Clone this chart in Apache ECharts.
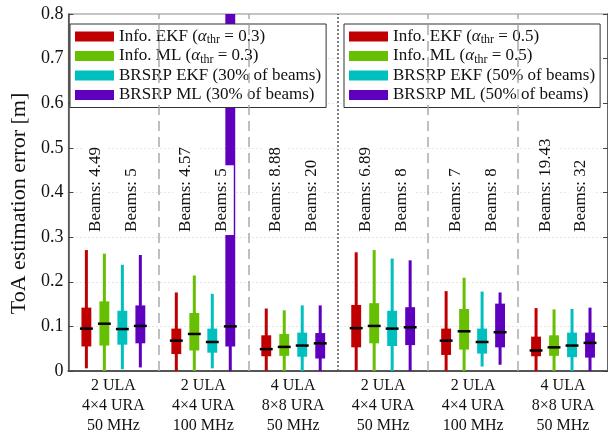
<!DOCTYPE html>
<html>
<head>
<meta charset="utf-8">
<script src="https://cdn.jsdelivr.net/npm/echarts@6/dist/echarts.min.js"></script>
<style>
  html, body { margin: 0; padding: 0; background: #fff; }
  #chart { width: 608px; height: 436px; }
</style>
</head>
<body>
<div id="chart"></div>
<script>
// x axis groups
var categories = [
  '2 ULA\n4×4 URA\n50 MHz', '2 ULA\n4×4 URA\n100 MHz', '4 ULA\n8×8 URA\n50 MHz',
  '2 ULA\n4×4 URA\n50 MHz', '2 ULA\n4×4 URA\n100 MHz', '4 ULA\n8×8 URA\n50 MHz'
]
var yTicks = [0, 0.1, 0.2, 0.3, 0.4, 0.5, 0.6, 0.7, 0.8]

// [min, q1, median, q3, max] for each group
var infoEkf = [
  [0.006, 0.055, 0.095, 0.142, 0.271],
  [0, 0.038, 0.068, 0.095, 0.176],
  [0, 0.033, 0.049, 0.080, 0.140],
  [0, 0.053, 0.096, 0.148, 0.266],
  [0, 0.036, 0.068, 0.095, 0.179],
  [0, 0.033, 0.046, 0.077, 0.141]
]
var infoMl = [
  [0, 0.057, 0.106, 0.156, 0.263],
  [0, 0.046, 0.083, 0.130, 0.214],
  [0, 0.034, 0.054, 0.083, 0.136],
  [0, 0.062, 0.101, 0.152, 0.271],
  [0, 0.048, 0.089, 0.139, 0.209],
  [0, 0.034, 0.053, 0.080, 0.138]
]
var brsrpEkf = [
  [0.004, 0.059, 0.094, 0.135, 0.238],
  [0.006, 0.041, 0.065, 0.095, 0.173],
  [0, 0.032, 0.057, 0.086, 0.147],
  [0, 0.056, 0.095, 0.135, 0.252],
  [0.010, 0.039, 0.065, 0.095, 0.178],
  [0, 0.031, 0.057, 0.086, 0.139]
]
var brsrpMl = [
  [0.008, 0.062, 0.101, 0.147, 0.260],
  [0, 0.055, 0.100, 0.950, 1.600],
  [0, 0.028, 0.062, 0.085, 0.147],
  [0, 0.058, 0.098, 0.143, 0.248],
  [0.014, 0.053, 0.087, 0.151, 0.176],
  [0, 0.030, 0.063, 0.086, 0.142]
]
// number of beams written over each pair of boxes
var beams = ['4.49', '5', '4.57', '5', '8.88', '20', '6.89', '8', '7', '8', '19.43', '32']

var namesLeft = ['Info. EKF (α_thr = 0.3)', 'Info. ML (α_thr = 0.3)', 'BRSRP EKF (30% of beams)', 'BRSRP ML (30% of beams)']
var namesRight = ['Info. EKF (α_thr = 0.5)', 'Info. ML (α_thr = 0.5)', 'BRSRP EKF (50% of beams)', 'BRSRP ML (50% of beams)']

var colors = ['#c00000', '#66bf00', '#00bfbf', '#6000bf']
var offsets = [-0.3, -0.1, 0.1, 0.3]
var font = 'Liberation Serif'

function renderBox(params, api) {
  var x = api.value(0)
  var lo = api.coord([x, api.value(1)])
  var q1 = api.coord([x, api.value(2)])
  var med = api.coord([x, api.value(3)])
  var q3 = api.coord([x, api.value(4)])
  var hi = api.coord([x, api.value(5)])
  var bw = api.size([0.11, 0])[0]
  var color = api.visual('color')
  return {
    type: 'group',
    children: [
      { type: 'rect', shape: { x: lo[0] - 1.5, y: hi[1], width: 3, height: lo[1] - hi[1] }, style: { fill: color } },
      { type: 'rect', shape: { x: lo[0] - bw / 2, y: q3[1], width: bw, height: q1[1] - q3[1] }, style: { fill: color } },
      { type: 'rect', shape: { x: lo[0] - bw / 2 - 1.5, y: med[1] - 1.25, width: bw + 3, height: 2.5 }, style: { fill: '#000' } }
    ]
  }
}

function renderLabel(params, api) {
  var p = api.coord([api.value(0), api.value(1)])
  return {
    type: 'text',
    x: p[0],
    y: p[1],
    rotation: Math.PI / 2,
    z2: 10,
    style: {
      text: 'Beams: ' + beams[params.dataIndex],
      fontFamily: font,
      fontSize: 17,
      fill: '#111',
      align: 'left',
      verticalAlign: 'middle',
      backgroundColor: '#fff',
      padding: [4, 3, 4, 3]
    }
  }
}

var stats = [infoEkf, infoMl, brsrpEkf, brsrpMl]
var series = []
;[namesLeft, namesRight].forEach(function (names, h) {
  names.forEach(function (name, k) {
    var data = []
    for (var g = h * 3; g < h * 3 + 3; g++) {
      data.push([g + 0.5 + offsets[k]].concat(stats[k][g]))
    }
    series.push({
      type: 'custom',
      name: name,
      xAxisIndex: 1,
      clip: true,
      itemStyle: { color: colors[k] },
      encode: { x: 0, y: [1, 2, 3, 4, 5] },
      renderItem: renderBox,
      data: data
    })
  })
})

series.push({
  type: 'custom',
  xAxisIndex: 1,
  z: 5,
  renderItem: renderLabel,
  encode: { x: 0, y: 1 },
  data: beams.map(function (b, i) {
    return [Math.floor(i / 2) + 0.5 + (i % 2 ? 0.2 : -0.2), 0.305]
  }),
  markLine: {
    silent: true,
    symbol: ['none', 'none'],
    label: { show: false },
    lineStyle: { color: '#aaa', width: 1.5, type: [10, 6] },
    data: [
      { xAxis: 1 }, { xAxis: 2 },
      { xAxis: 3, lineStyle: { color: '#555', width: 1.5, type: [2, 2] } },
      { xAxis: 4 }, { xAxis: 5 }
    ]
  }
})

function legendFmt(name) {
  return name.replace('α_thr', '{a|α}{s|thr}')
}

var legendBase = {
  orient: 'vertical',
  top: 24,
  icon: 'rect',
  itemWidth: 39,
  itemHeight: 10,
  itemGap: 0.5,
  padding: [3, 5, 3, 5],
  borderColor: '#333',
  borderWidth: 1,
  backgroundColor: '#fff',
  selectedMode: false,
  formatter: legendFmt,
  textStyle: {
    fontFamily: font,
    fontSize: 17,
    color: '#111',
    lineHeight: 19,
    rich: {
      a: { fontFamily: font, fontSize: 17, fontStyle: 'italic', color: '#111', lineHeight: 19 },
      s: { fontFamily: font, fontSize: 12, color: '#111', lineHeight: 6, verticalAlign: 'bottom' }
    }
  }
}

var chart = echarts.init(document.getElementById('chart'))
chart.setOption({
  animation: false,
  grid: { left: 63, right: 0, top: 14, bottom: 64, show: true, borderColor: '#888', borderWidth: 1 },
  legend: [
    Object.assign({}, legendBase, { left: 70, data: namesLeft }),
    Object.assign({}, legendBase, { left: 344, data: namesRight })
  ],
  xAxis: [
    {
      type: 'category',
      data: categories,
      axisLine: { lineStyle: { color: '#555', width: 2 } },
      axisTick: { show: false },
      axisLabel: { fontFamily: font, fontSize: 16, color: '#111', lineHeight: 20, margin: 5 }
    },
    { type: 'value', min: 0, max: 6, show: false }
  ],
  yAxis: [
    {
      type: 'value',
      min: yTicks[0],
      max: yTicks[yTicks.length - 1],
      interval: 0.1,
      name: 'ToA estimation error [m]',
      nameLocation: 'middle',
      nameGap: 35,
      nameTextStyle: { fontFamily: font, fontSize: 22, color: '#111', padding: [0, 22, 0, 0] },
      axisLine: { show: true, lineStyle: { color: '#444', width: 1.5 } },
      axisTick: { show: true, inside: true, length: 5, lineStyle: { color: '#444' } },
      axisLabel: {
        fontFamily: font, fontSize: 18, color: '#111', margin: 5,
        formatter: function (v) { return yTicks.indexOf(Math.round(v * 10) / 10) >= 0 ? String(Math.round(v * 10) / 10) : '' }
      },
      splitLine: { lineStyle: { color: '#ccc', type: [1, 3] } }
    },
    {
      type: 'value',
      position: 'right',
      min: yTicks[0],
      max: yTicks[yTicks.length - 1],
      interval: 0.1,
      axisLine: { show: true, lineStyle: { color: '#444', width: 1.5 } },
      axisTick: { show: true, inside: true, length: 5, lineStyle: { color: '#444' } },
      axisLabel: { show: false },
      splitLine: { show: false }
    }
  ],
  series: series
})
</script>
</body>
</html>
